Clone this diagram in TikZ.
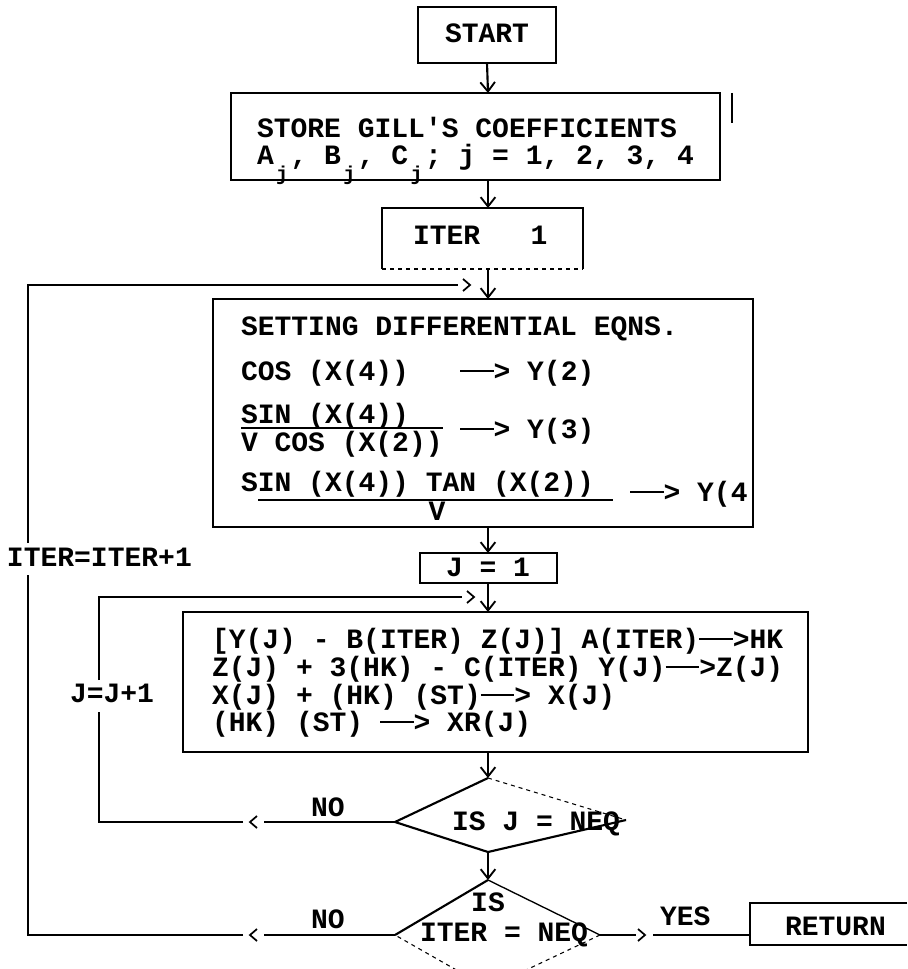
\documentclass[tikz,border=0pt]{standalone}
\usepackage{fontspec}
\newfontfamily\typew{Liberation Mono}
\usetikzlibrary{arrows.meta,fit}
\newcommand{\darr}{\makebox[1.8em][l]{\rule[0.27em]{1.2em}{0.07em}>}}
\newcommand{\sj}{\makebox[0.6em]{\raisebox{-0.55em}{\fontsize{15}{15}\selectfont j}}}
\begin{document}
\begin{tikzpicture}[x=0.75pt,y=-0.75pt,
  every node/.style={font=\typew\bfseries\fontsize{21}{25}\selectfont, inner sep=0pt, outer sep=0pt},
  ln/.style={line width=1.6pt},
  box/.style={draw, line width=1.6pt, inner sep=0pt},
  plainbox/.style={inner sep=0pt},
  arr/.style={line width=1.6pt, -{Straight Barb[length=7pt,width=11pt,line width=1.4pt]}},
  lbl/.style={anchor=base west},
  ctr/.style={anchor=base},
  faint/.style={line width=0.8pt, dash pattern=on 3pt off 3pt},
  chevl/.pic={\draw[line width=1.3pt] (7,-6) -- (0,0) -- (7,6);},
  chevr/.pic={\draw[line width=1.3pt] (-7,-6) -- (0,0) -- (-7,6);}
]
\useasboundingbox (0,0) rectangle (907,969);
\clip (0,0) rectangle (907,969);
\coordinate (ax) at (488,0);

% boxes
\node[box, fit={(418,7) (556,63)}] (start) {};
\node[ctr] (starttxt) at (487,43) {START};
\node[box, fit={(231,93) (720,180)}] (store) {};
\draw[ln] (732,93) -- (732,123);
\node[lbl] (s1) at (257,138) {STORE\ GILL'S\ COEFFICIENTS};
\node[lbl] (s2) at (257,165) {A\sj,\ B\sj,\ C\sj;\ j\ =\ 1,\ 2,\ 3,\ 4};

\node[plainbox, fit={(382,208) (583,269)}] (iter) {};
\draw[ln] (iter.south west) -- (iter.north west) -- (iter.north east) -- (iter.south east);
\draw[faint] (iter.south west) -- (iter.south east);
\node[lbl] (itxt) at (413,245) {ITER\ \ \ 1};

\node[box, fit={(213,299) (753,527)}] (eqs) {};
\node[lbl] (e0) at (241,335) {SETTING\ DIFFERENTIAL\ EQNS.};
\node[lbl] (e1) at (241,380) {COS\ (X(4))};
\node[lbl] (e1r) at (460,380) {\darr\ Y(2)};
\node[lbl] (e2n) at (241,423) {SIN\ (X(4))};
\draw[ln] (241,428) -- (443,428);
\node[lbl] (e2d) at (241,451) {V\ COS\ (X(2))};
\node[lbl] (e2r) at (460,438) {\darr\ Y(3)};
\node[lbl] (e3n) at (241,491) {SIN\ (X(4))\ TAN\ (X(2))};
\draw[ln] (258,500) -- (613,500);
\node[ctr] (e3d) at (437,520) {V};
\node[lbl] (e3r) at (630,501) {\darr\ Y(4};

\node[box, fit={(420,553) (557,583)}] (jone) {};
\node[ctr] (jonetxt) at (488,576) {J\ =\ 1};

\node[box, fit={(183,612) (808,752)}] (upd) {};
\node[lbl] (u1) at (212,648) {[Y(J)\ -\ B(ITER)\ Z(J)]\ A(ITER)\darr HK};
\node[lbl] (u2) at (212,676) {Z(J)\ +\ 3(HK)\ -\ C(ITER)\ Y(J)\darr Z(J)};
\node[lbl] (u3) at (212,704) {X(J)\ +\ (HK)\ (ST)\darr\ X(J)};
\node[lbl] (u4) at (212,731) {(HK)\ (ST)\ \darr\ XR(J)};

% diamonds
\coordinate (d1n) at (488,778);
\coordinate (d1w) at (395,822);
\coordinate (d1s) at (488,852);
\coordinate (d1e) at (626,820);
\draw[ln] (d1e) -- (d1s) -- (d1w) -- (d1n);
\draw[faint] (d1n) -- (d1e);
\node[lbl] (q1) at (452,830) {IS\ J\ =\ NEQ};

\coordinate (d2n) at (488,880);
\coordinate (d2w) at (395,935);
\coordinate (d2s) at (488,988);
\coordinate (d2e) at (600,935);
\draw[ln] (d2w) -- (d2n);
\draw[line width=1pt] (d2n) -- (d2e);
\draw[faint] (d2e) -- (d2s) -- (d2w);
\node[ctr] (q2a) at (488,911) {IS};
\node[lbl] (q2b) at (420,941) {ITER\ =\ NEQ};

% vertical flow
\draw[arr] (start.south) -- (ax |- store.north);
\draw[arr] (ax |- store.south) -- (ax |- iter.north);
\draw[arr] (ax |- iter.south) -- (ax |- eqs.north);
\draw[arr] (ax |- eqs.south) -- (ax |- jone.north);
\draw[arr] (ax |- jone.south) -- (ax |- upd.north);
\draw[arr] (ax |- upd.south) -- (d1n);
\draw[arr] (d1s) -- (d2n);

% inner loop
\coordinate (i1) at (264,822);
\coordinate (i2) at (243,822);
\coordinate (i3) at (99,822);
\coordinate (i4) at (99,712);
\coordinate (i5) at (99,680);
\coordinate (i6) at (99,597);
\coordinate (i7) at (462,597);
\draw[ln] (d1w) -- (i1);
\pic at (250,822) {chevl};
\draw[ln] (i2) -- (i3) -- (i4);
\node[lbl] (jj) at (70,702) {J=J+1};
\draw[ln] (i5) -- (i6) -- (i7);
\pic at (474,597) {chevr};
\node[lbl] (no1) at (311,816) {NO};

% outer loop
\coordinate (o1) at (264,935);
\coordinate (o2) at (243,935);
\coordinate (o3) at (28,935);
\coordinate (o4) at (28,575);
\coordinate (o5) at (28,543);
\coordinate (o6) at (28,285);
\coordinate (o7) at (458,285);
\draw[ln] (d2w) -- (o1);
\pic at (250,935) {chevl};
\draw[ln] (o2) -- (o3) -- (o4);
\node[lbl] (ii) at (7,566) {ITER=ITER+1};
\draw[ln] (o5) -- (o6) -- (o7);
\pic at (470,285) {chevr};
\node[lbl] (no2) at (311,928) {NO};

% yes branch
\coordinate (y1) at (636,935);
\coordinate (y2) at (653,935);
\coordinate (y3) at (750,935);
\draw[ln] (d2e) -- (y1);
\pic at (645,935) {chevr};
\draw[ln] (y2) -- (y3);
\node[lbl] (yes) at (660,925) {YES};
\node[lbl] (ret) at (785,935) {RETURN};
\draw[ln] (907,903) -- (750,903) -- (750,945) -- (907,945);
\end{tikzpicture}
\end{document}
